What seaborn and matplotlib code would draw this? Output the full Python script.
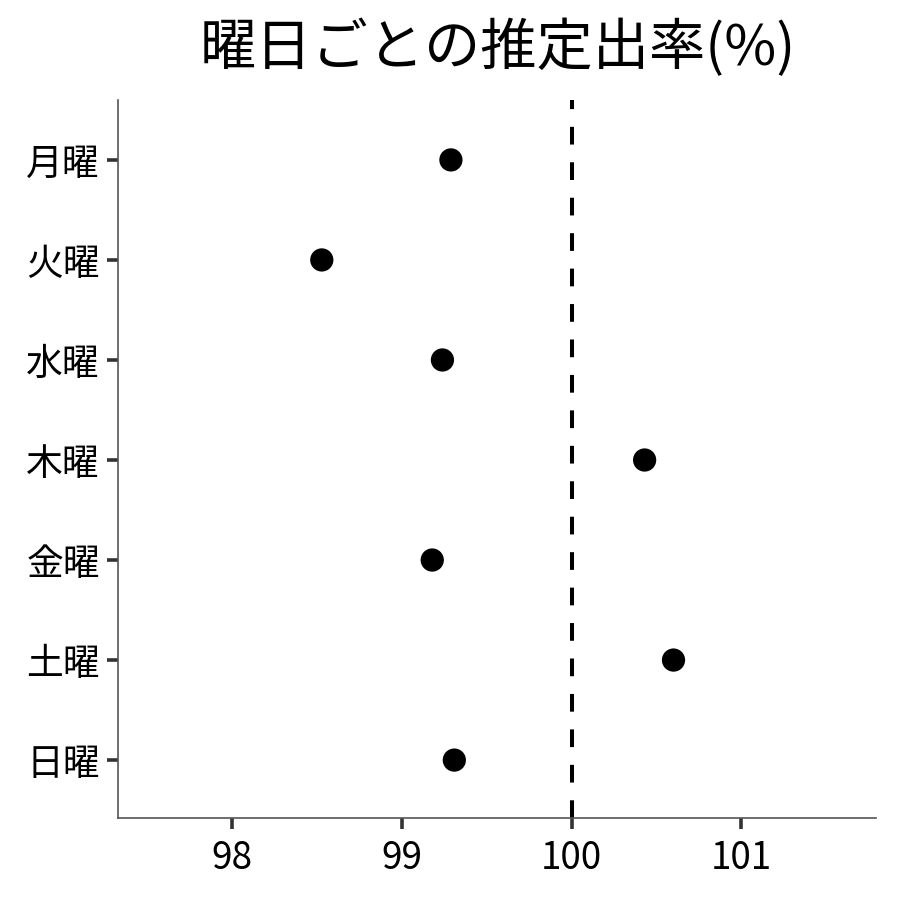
import matplotlib
matplotlib.use("Agg")
import matplotlib.pyplot as plt
import pandas as pd
import seaborn as sns

days = ["月曜", "火曜", "水曜", "木曜", "金曜", "土曜", "日曜"]
rates = [99.29, 98.53, 99.24, 100.43, 99.18, 100.60, 99.31]
x_ticks = [98, 99, 100, 101]

sns.set_theme(style="white")
plt.rcParams["font.family"] = ["Noto Sans CJK JP", "DejaVu Sans"]

df = pd.DataFrame({"day": days, "rate": rates})

fig = plt.figure(figsize=(9, 9), dpi=100)
ax = fig.add_axes([0.131, 0.091, 0.842, 0.798])

sns.scatterplot(data=df, x="rate", y="day", ax=ax, color="black", s=280,
                edgecolor="none", zorder=3)
ax.axvline(100, color="black", linestyle=(0, (4.4, 4.4)), linewidth=2.9, zorder=2)

ax.set_xlim(97.33, 101.79)
ax.set_ylim(6.58, -0.6)
ax.set_xticks(x_ticks)
ax.set_xticklabels([str(t) for t in x_ticks])
ax.set_xlabel("")
ax.set_ylabel("")
ax.tick_params(axis="both", which="major", length=8, width=2.6, color="#333333",
               labelsize=26.5, labelcolor="black", pad=5, left=True)
ax.tick_params(axis="x", bottom=True, pad=7)

for side in ["top", "right"]:
    ax.spines[side].set_visible(False)
for side in ["left", "bottom"]:
    ax.spines[side].set_color("#555555")
    ax.spines[side].set_linewidth(1.2)

fig.text(0.553, 0.946, "曜日ごとの推定出率(%)", fontsize=40.5, color="black",
         ha="center", va="center")

fig.savefig("out.png", dpi=100)
